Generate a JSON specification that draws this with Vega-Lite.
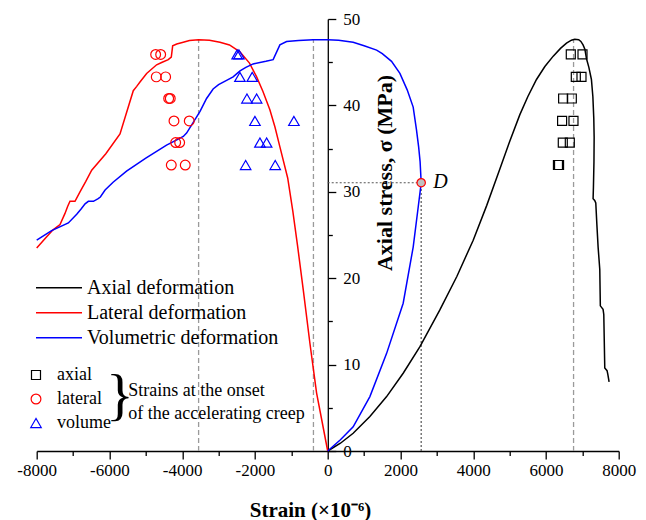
{
  "$schema": "https://vega.github.io/schema/vega-lite/v6.json",
  "width": 582,
  "height": 432,
  "autosize": {"type": "none"},
  "padding": {"left": 36.7, "top": 19, "right": 27.3, "bottom": 69},
  "background": "white",
  "config": {
    "view": {"stroke": null},
    "font": "Liberation Serif",
    "axis": {"grid": false, "domainColor": "black", "tickColor": "black", "labelColor": "black", "titleColor": "black", "labelFont": "Liberation Serif", "titleFont": "Liberation Serif", "domainWidth": 1.3, "tickWidth": 1.3},
    "legend": {"labelFont": "Liberation Serif", "labelColor": "black", "labelLimit": 0},
    "text": {"color": "black", "font": "Liberation Serif"}
  },
  "datasets": {
    "curves": [
      {"s": "Axial deformation", "o": 0, "x": 0, "y": 0},
      {"s": "Axial deformation", "o": 1, "x": 350, "y": 0.9},
      {"s": "Axial deformation", "o": 2, "x": 700, "y": 2.05},
      {"s": "Axial deformation", "o": 3, "x": 1160, "y": 4.0},
      {"s": "Axial deformation", "o": 4, "x": 1620, "y": 6.3},
      {"s": "Axial deformation", "o": 5, "x": 2075, "y": 9.0},
      {"s": "Axial deformation", "o": 6, "x": 2540, "y": 12.1},
      {"s": "Axial deformation", "o": 7, "x": 3080, "y": 16.3},
      {"s": "Axial deformation", "o": 8, "x": 3550, "y": 20.2},
      {"s": "Axial deformation", "o": 9, "x": 4000, "y": 24.4},
      {"s": "Axial deformation", "o": 10, "x": 4370, "y": 28.4},
      {"s": "Axial deformation", "o": 11, "x": 4730, "y": 32.6},
      {"s": "Axial deformation", "o": 12, "x": 5000, "y": 35.8},
      {"s": "Axial deformation", "o": 13, "x": 5280, "y": 38.9},
      {"s": "Axial deformation", "o": 14, "x": 5500, "y": 41.0},
      {"s": "Axial deformation", "o": 15, "x": 5740, "y": 43.0},
      {"s": "Axial deformation", "o": 16, "x": 5970, "y": 44.5},
      {"s": "Axial deformation", "o": 17, "x": 6200, "y": 45.7},
      {"s": "Axial deformation", "o": 18, "x": 6400, "y": 46.6},
      {"s": "Axial deformation", "o": 19, "x": 6565, "y": 47.2},
      {"s": "Axial deformation", "o": 20, "x": 6700, "y": 47.55},
      {"s": "Axial deformation", "o": 21, "x": 6790, "y": 47.65},
      {"s": "Axial deformation", "o": 22, "x": 6900, "y": 47.6},
      {"s": "Axial deformation", "o": 23, "x": 6960, "y": 47.4},
      {"s": "Axial deformation", "o": 24, "x": 7020, "y": 47.0},
      {"s": "Axial deformation", "o": 25, "x": 7070, "y": 46.5},
      {"s": "Axial deformation", "o": 26, "x": 7115, "y": 45.4},
      {"s": "Axial deformation", "o": 27, "x": 7180, "y": 44.4},
      {"s": "Axial deformation", "o": 28, "x": 7250, "y": 43.0},
      {"s": "Axial deformation", "o": 29, "x": 7290, "y": 41.0},
      {"s": "Axial deformation", "o": 30, "x": 7315, "y": 38.5},
      {"s": "Axial deformation", "o": 31, "x": 7325, "y": 36.3},
      {"s": "Axial deformation", "o": 32, "x": 7320, "y": 33.5},
      {"s": "Axial deformation", "o": 33, "x": 7305, "y": 30.5},
      {"s": "Axial deformation", "o": 34, "x": 7296, "y": 29.2},
      {"s": "Axial deformation", "o": 35, "x": 7340, "y": 29.0},
      {"s": "Axial deformation", "o": 36, "x": 7370, "y": 28.7},
      {"s": "Axial deformation", "o": 37, "x": 7400, "y": 26.2},
      {"s": "Axial deformation", "o": 38, "x": 7434, "y": 23.6},
      {"s": "Axial deformation", "o": 39, "x": 7480, "y": 21.0},
      {"s": "Axial deformation", "o": 40, "x": 7495, "y": 16.8},
      {"s": "Axial deformation", "o": 41, "x": 7570, "y": 16.4},
      {"s": "Axial deformation", "o": 42, "x": 7590, "y": 15.8},
      {"s": "Axial deformation", "o": 43, "x": 7617, "y": 9.6},
      {"s": "Axial deformation", "o": 44, "x": 7680, "y": 9.3},
      {"s": "Axial deformation", "o": 45, "x": 7700, "y": 8.9},
      {"s": "Axial deformation", "o": 46, "x": 7736, "y": 8.0},
      {"s": "Lateral deformation", "o": 0, "x": 0, "y": 0},
      {"s": "Lateral deformation", "o": 1, "x": -150, "y": 3.3},
      {"s": "Lateral deformation", "o": 2, "x": -305, "y": 6.7},
      {"s": "Lateral deformation", "o": 3, "x": -490, "y": 12.5},
      {"s": "Lateral deformation", "o": 4, "x": -670, "y": 18.6},
      {"s": "Lateral deformation", "o": 5, "x": -830, "y": 23.8},
      {"s": "Lateral deformation", "o": 6, "x": -960, "y": 27.8},
      {"s": "Lateral deformation", "o": 7, "x": -1100, "y": 31.6},
      {"s": "Lateral deformation", "o": 8, "x": -1314, "y": 35.2},
      {"s": "Lateral deformation", "o": 9, "x": -1450, "y": 37.5},
      {"s": "Lateral deformation", "o": 10, "x": -1590, "y": 39.5},
      {"s": "Lateral deformation", "o": 11, "x": -1780, "y": 41.6},
      {"s": "Lateral deformation", "o": 12, "x": -1954, "y": 43.3},
      {"s": "Lateral deformation", "o": 13, "x": -2150, "y": 44.9},
      {"s": "Lateral deformation", "o": 14, "x": -2413, "y": 46.2},
      {"s": "Lateral deformation", "o": 15, "x": -2700, "y": 47.0},
      {"s": "Lateral deformation", "o": 16, "x": -2962, "y": 47.3},
      {"s": "Lateral deformation", "o": 17, "x": -3250, "y": 47.55},
      {"s": "Lateral deformation", "o": 18, "x": -3549, "y": 47.6},
      {"s": "Lateral deformation", "o": 19, "x": -3800, "y": 47.5},
      {"s": "Lateral deformation", "o": 20, "x": -3971, "y": 47.3},
      {"s": "Lateral deformation", "o": 21, "x": -4150, "y": 47.1},
      {"s": "Lateral deformation", "o": 22, "x": -4262, "y": 46.9},
      {"s": "Lateral deformation", "o": 23, "x": -4300, "y": 45.6},
      {"s": "Lateral deformation", "o": 24, "x": -4383, "y": 45.3},
      {"s": "Lateral deformation", "o": 25, "x": -4550, "y": 45.0},
      {"s": "Lateral deformation", "o": 26, "x": -4703, "y": 44.7},
      {"s": "Lateral deformation", "o": 27, "x": -4978, "y": 43.7},
      {"s": "Lateral deformation", "o": 28, "x": -5161, "y": 42.7},
      {"s": "Lateral deformation", "o": 29, "x": -5250, "y": 42.2},
      {"s": "Lateral deformation", "o": 30, "x": -5345, "y": 41.7},
      {"s": "Lateral deformation", "o": 31, "x": -5710, "y": 36.7},
      {"s": "Lateral deformation", "o": 32, "x": -6100, "y": 34.4},
      {"s": "Lateral deformation", "o": 33, "x": -6488, "y": 32.5},
      {"s": "Lateral deformation", "o": 34, "x": -6650, "y": 31.2},
      {"s": "Lateral deformation", "o": 35, "x": -6810, "y": 30.0},
      {"s": "Lateral deformation", "o": 36, "x": -6947, "y": 28.9},
      {"s": "Lateral deformation", "o": 37, "x": -7085, "y": 28.9},
      {"s": "Lateral deformation", "o": 38, "x": -7150, "y": 28.3},
      {"s": "Lateral deformation", "o": 39, "x": -7222, "y": 27.5},
      {"s": "Lateral deformation", "o": 40, "x": -7359, "y": 26.2},
      {"s": "Lateral deformation", "o": 41, "x": -7550, "y": 25.6},
      {"s": "Lateral deformation", "o": 42, "x": -7725, "y": 24.8},
      {"s": "Lateral deformation", "o": 43, "x": -8000, "y": 23.5},
      {"s": "Volumetric deformation", "o": 0, "x": 0, "y": 0},
      {"s": "Volumetric deformation", "o": 1, "x": 350, "y": 1.3},
      {"s": "Volumetric deformation", "o": 2, "x": 700, "y": 2.8},
      {"s": "Volumetric deformation", "o": 3, "x": 1160, "y": 6.3},
      {"s": "Volumetric deformation", "o": 4, "x": 1620, "y": 11.3},
      {"s": "Volumetric deformation", "o": 5, "x": 2075, "y": 17.1},
      {"s": "Volumetric deformation", "o": 6, "x": 2350, "y": 23.6},
      {"s": "Volumetric deformation", "o": 7, "x": 2490, "y": 28.3},
      {"s": "Volumetric deformation", "o": 8, "x": 2540, "y": 30.0},
      {"s": "Volumetric deformation", "o": 9, "x": 2570, "y": 31.05},
      {"s": "Volumetric deformation", "o": 10, "x": 2540, "y": 33.5},
      {"s": "Volumetric deformation", "o": 11, "x": 2500, "y": 35.2},
      {"s": "Volumetric deformation", "o": 12, "x": 2440, "y": 37.2},
      {"s": "Volumetric deformation", "o": 13, "x": 2350, "y": 39.8},
      {"s": "Volumetric deformation", "o": 14, "x": 2185, "y": 41.8},
      {"s": "Volumetric deformation", "o": 15, "x": 1985, "y": 43.7},
      {"s": "Volumetric deformation", "o": 16, "x": 1755, "y": 45.1},
      {"s": "Volumetric deformation", "o": 17, "x": 1500, "y": 46.0},
      {"s": "Volumetric deformation", "o": 18, "x": 1345, "y": 46.4},
      {"s": "Volumetric deformation", "o": 19, "x": 1000, "y": 46.9},
      {"s": "Volumetric deformation", "o": 20, "x": 700, "y": 47.3},
      {"s": "Volumetric deformation", "o": 21, "x": 300, "y": 47.55},
      {"s": "Volumetric deformation", "o": 22, "x": 0, "y": 47.6},
      {"s": "Volumetric deformation", "o": 23, "x": -400, "y": 47.6},
      {"s": "Volumetric deformation", "o": 24, "x": -800, "y": 47.5},
      {"s": "Volumetric deformation", "o": 25, "x": -1130, "y": 47.4},
      {"s": "Volumetric deformation", "o": 26, "x": -1314, "y": 47.0},
      {"s": "Volumetric deformation", "o": 27, "x": -1500, "y": 45.3},
      {"s": "Volumetric deformation", "o": 28, "x": -1700, "y": 45.1},
      {"s": "Volumetric deformation", "o": 29, "x": -2050, "y": 44.8},
      {"s": "Volumetric deformation", "o": 30, "x": -2250, "y": 44.4},
      {"s": "Volumetric deformation", "o": 31, "x": -2410, "y": 44.0},
      {"s": "Volumetric deformation", "o": 32, "x": -2600, "y": 43.3},
      {"s": "Volumetric deformation", "o": 33, "x": -2780, "y": 42.9},
      {"s": "Volumetric deformation", "o": 34, "x": -3000, "y": 42.4},
      {"s": "Volumetric deformation", "o": 35, "x": -3150, "y": 41.9},
      {"s": "Volumetric deformation", "o": 36, "x": -3330, "y": 40.8},
      {"s": "Volumetric deformation", "o": 37, "x": -3510, "y": 39.3},
      {"s": "Volumetric deformation", "o": 38, "x": -3700, "y": 38.0},
      {"s": "Volumetric deformation", "o": 39, "x": -3880, "y": 36.8},
      {"s": "Volumetric deformation", "o": 40, "x": -3970, "y": 36.4},
      {"s": "Volumetric deformation", "o": 41, "x": -4150, "y": 36.0},
      {"s": "Volumetric deformation", "o": 42, "x": -4430, "y": 35.4},
      {"s": "Volumetric deformation", "o": 43, "x": -5000, "y": 33.9},
      {"s": "Volumetric deformation", "o": 44, "x": -5530, "y": 32.4},
      {"s": "Volumetric deformation", "o": 45, "x": -5900, "y": 31.1},
      {"s": "Volumetric deformation", "o": 46, "x": -6120, "y": 30.2},
      {"s": "Volumetric deformation", "o": 47, "x": -6250, "y": 29.4},
      {"s": "Volumetric deformation", "o": 48, "x": -6310, "y": 29.2},
      {"s": "Volumetric deformation", "o": 49, "x": -6440, "y": 28.9},
      {"s": "Volumetric deformation", "o": 50, "x": -6580, "y": 28.9},
      {"s": "Volumetric deformation", "o": 51, "x": -6670, "y": 28.6},
      {"s": "Volumetric deformation", "o": 52, "x": -6780, "y": 28.0},
      {"s": "Volumetric deformation", "o": 53, "x": -6900, "y": 27.4},
      {"s": "Volumetric deformation", "o": 54, "x": -7130, "y": 26.4},
      {"s": "Volumetric deformation", "o": 55, "x": -7590, "y": 25.5},
      {"s": "Volumetric deformation", "o": 56, "x": -8000, "y": 24.4}
    ],
    "onset": [
      {"t": "axial", "x": 6683, "y": 45.9}, {"t": "axial", "x": 7005, "y": 45.9},
      {"t": "axial", "x": 6821, "y": 43.3}, {"t": "axial", "x": 6977, "y": 43.3},
      {"t": "axial", "x": 6472, "y": 40.8}, {"t": "axial", "x": 6711, "y": 40.8},
      {"t": "axial", "x": 6444, "y": 38.2}, {"t": "axial", "x": 6757, "y": 38.2},
      {"t": "axial", "x": 6463, "y": 35.7}, {"t": "axial", "x": 6656, "y": 35.7},
      {"t": "axial", "x": 6330, "y": 33.1}, {"t": "axial", "x": 6360, "y": 33.1},
      {"t": "lateral", "x": -4730, "y": 45.9}, {"t": "lateral", "x": -4592, "y": 45.9},
      {"t": "lateral", "x": -4713, "y": 43.3}, {"t": "lateral", "x": -4455, "y": 43.3},
      {"t": "lateral", "x": -4372, "y": 40.8}, {"t": "lateral", "x": -4328, "y": 40.8},
      {"t": "lateral", "x": -4226, "y": 38.2}, {"t": "lateral", "x": -3806, "y": 38.2},
      {"t": "lateral", "x": -4180, "y": 35.7}, {"t": "lateral", "x": -4070, "y": 35.7},
      {"t": "lateral", "x": -4300, "y": 33.1}, {"t": "lateral", "x": -3916, "y": 33.1},
      {"t": "volume", "x": -2490, "y": 45.9}, {"t": "volume", "x": -2440, "y": 45.9},
      {"t": "volume", "x": -2413, "y": 43.3}, {"t": "volume", "x": -2075, "y": 43.3},
      {"t": "volume", "x": -2220, "y": 40.8}, {"t": "volume", "x": -1954, "y": 40.8},
      {"t": "volume", "x": -2000, "y": 38.2}, {"t": "volume", "x": -929, "y": 38.2},
      {"t": "volume", "x": -1863, "y": 35.7}, {"t": "volume", "x": -1679, "y": 35.7},
      {"t": "volume", "x": -2256, "y": 33.1}, {"t": "volume", "x": -1443, "y": 33.1}
    ],
    "dashed": [
      {"x": -3549, "y0": 0, "y1": 47.6},
      {"x": -392, "y0": 0, "y1": 47.6},
      {"x": 6759, "y0": 0, "y1": 47.6}
    ],
    "dotted": [
      {"xa": 0, "xb": 2570, "ya": 31.05, "yb": 31.05},
      {"xa": 2570, "xb": 2570, "ya": 0, "yb": 31.05}
    ]
  },
  "resolve": {"axis": {"x": "independent", "y": "independent"}},
  "layer": [
    {
      "data": {"name": "dashed"},
      "mark": {"type": "rule", "color": "#9a9a9a", "strokeDash": [5, 3], "strokeWidth": 1.3},
      "encoding": {
        "x": {"field": "x", "type": "quantitative", "scale": {"domain": [-8000, 8000], "nice": false}, "axis": {"orient": "bottom", "values": [-7000, -5000, -3000, -1000, 1000, 3000, 5000, 7000], "labels": false, "domain": false, "tickSize": 4.5, "title": null}},
        "y": {"field": "y0", "type": "quantitative", "scale": {"domain": [0, 50], "nice": false}, "axis": {"orient": "right", "offset": -290.9, "values": [5, 15, 25, 35, 45], "labels": false, "domain": false, "tickSize": 4.5, "title": null}},
        "y2": {"field": "y1"}
      }
    },
    {
      "data": {"name": "dotted"},
      "mark": {"type": "rule", "color": "#555555", "strokeDash": [2, 2], "strokeWidth": 1.2},
      "encoding": {
        "x": {"field": "xa", "type": "quantitative", "axis": null},
        "x2": {"field": "xb"},
        "y": {"field": "ya", "type": "quantitative", "axis": null},
        "y2": {"field": "yb"}
      }
    },
    {
      "data": {"name": "curves"},
      "mark": {"type": "line", "strokeWidth": 1.5},
      "encoding": {
        "x": {"field": "x", "type": "quantitative", "axis": {"orient": "bottom", "values": [-8000, -6000, -4000, -2000, 0, 2000, 4000, 6000, 8000], "tickSize": 8, "labelFont": "Liberation Serif", "labelFontSize": 17, "labelPadding": 3, "labelFlush": false, "labelOverlap": false, "labelExpr": "datum.value + ''", "title": "Strain (×10⁻⁶)", "titleFont": "Liberation Serif", "titleFontSize": 21, "titleFontWeight": "bold", "titleX": 273.3, "titleY": 65, "titleAlign": "center", "titleBaseline": "alphabetic"}},
        "y": {"field": "y", "type": "quantitative", "axis": {"orient": "right", "offset": -290.9, "values": [0, 10, 20, 30, 40, 50], "tickSize": 8, "labelFont": "Liberation Serif", "labelFontSize": 17, "labelPadding": 7, "labelFlush": false, "labelOverlap": false, "title": "Axial stress, σ (MPa)", "titleFont": "Liberation Serif", "titleFontSize": 22, "titleFontWeight": "bold", "titleAngle": 270, "titleX": 57, "titleY": 153.5, "titleAlign": "center", "titleBaseline": "middle"}},
        "color": {"field": "s", "type": "nominal", "scale": {"domain": ["Axial deformation", "Lateral deformation", "Volumetric deformation"], "range": ["#000000", "#ff0000", "#0000ff"]}, "legend": {"orient": "none", "legendX": -1.7, "legendY": 256.5, "title": null, "symbolType": "stroke", "symbolSize": 2116, "symbolStrokeWidth": 1.5, "clipHeight": 24.5, "rowPadding": 0, "padding": 0, "labelFont": "Liberation Serif", "labelFontSize": 20, "labelOffset": 4, "labelLimit": 0}},
        "order": {"field": "o", "type": "quantitative"}
      }
    },
    {
      "data": {"name": "onset"},
      "mark": {"type": "point", "filled": false, "strokeWidth": 1.2, "opacity": 1},
      "encoding": {
        "x": {"field": "x", "type": "quantitative", "axis": null},
        "y": {"field": "y", "type": "quantitative", "axis": null},
        "shape": {"field": "t", "type": "nominal", "scale": {"domain": ["axial", "lateral", "volume"], "range": ["square", "circle", "triangle-up"]}, "legend": {"orient": "none", "legendX": -9.7, "legendY": 344, "title": null, "clipHeight": 24, "rowPadding": 0, "padding": 0, "labelFont": "Liberation Serif", "labelFontSize": 18, "labelOffset": 12, "labelLimit": 0, "symbolStrokeWidth": 1.2}},
        "stroke": {"field": "t", "type": "nominal", "scale": {"domain": ["axial", "lateral", "volume"], "range": ["#000000", "#ff0000", "#0000ff"]}, "legend": {"orient": "none", "legendX": -9.7, "legendY": 344, "title": null, "clipHeight": 24, "rowPadding": 0, "padding": 0, "labelFont": "Liberation Serif", "labelFontSize": 18, "labelOffset": 12, "labelLimit": 0, "symbolStrokeWidth": 1.2}},
        "size": {"field": "t", "type": "nominal", "scale": {"domain": ["axial", "lateral", "volume"], "range": [81, 110, 144]}, "legend": {"orient": "none", "legendX": -9.7, "legendY": 344, "title": null, "clipHeight": 24, "rowPadding": 0, "padding": 0, "labelFont": "Liberation Serif", "labelFontSize": 18, "labelOffset": 12, "labelLimit": 0, "symbolStrokeWidth": 1.2}}
      }
    },
    {
      "data": {"values": [{"x": 2570, "y": 31.05}]},
      "mark": {"type": "point", "filled": true, "fill": "#c0c0c0", "stroke": "#ff0000", "strokeWidth": 1.2, "size": 70, "opacity": 1},
      "encoding": {
        "x": {"field": "x", "type": "quantitative", "axis": null},
        "y": {"field": "y", "type": "quantitative", "axis": null}
      }
    },
    {
      "data": {"values": [{"x": -5710, "y": 6.2, "t": "}"}]},
      "mark": {"type": "text", "font": "Liberation Serif", "fontSize": 58, "align": "center", "baseline": "middle"},
      "encoding": {
        "x": {"field": "x", "type": "quantitative", "axis": null},
        "y": {"field": "y", "type": "quantitative", "axis": null},
        "text": {"field": "t"}
      }
    },
    {
      "data": {"values": [{"x": -5482, "y": 6.31, "t": "Strains at the onset"}, {"x": -5482, "y": 3.67, "t": "of the accelerating creep"}]},
      "mark": {"type": "text", "font": "Liberation Serif", "fontSize": 18, "align": "left", "baseline": "alphabetic"},
      "encoding": {
        "x": {"field": "x", "type": "quantitative", "axis": null},
        "y": {"field": "y", "type": "quantitative", "axis": null},
        "text": {"field": "t"}
      }
    },
    {
      "data": {"values": [{"x": 2899, "y": 30.4, "t": "D"}]},
      "mark": {"type": "text", "font": "Liberation Serif", "fontSize": 20, "fontStyle": "italic", "align": "left", "baseline": "alphabetic"},
      "encoding": {
        "x": {"field": "x", "type": "quantitative", "axis": null},
        "y": {"field": "y", "type": "quantitative", "axis": null},
        "text": {"field": "t"}
      }
    }
  ]
}
